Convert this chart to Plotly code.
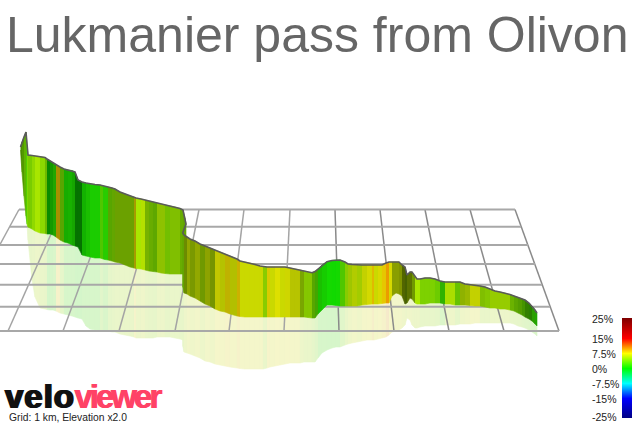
import numpy as np
import plotly.graph_objects as go

TITLE = "Lukmanier pass from Olivon"
GRID_NOTE = "Grid: 1 km, Elevation x2.0"

# profile, station by station
station_x = [20.5,22,24,26,27,28,32,35,40,45,47,50,53,56,60,64,68,72,75,78,82,86,90,95,100,103,105,108,112,115,120,125,130,134,136,141,145,149,153,157,161,165,170,175,180,183,185,186,182.7,184,187,190,195,200,205,210,215,220,225,230,237,240,245,250,255,260,263,267,270,275,280,285,290,295,300,304,308,312,315,318,322,327,332,336,340,345,348,352,357,362,367,372,374,378,382,386,389,392,396,399,402,405,407,410,412,415,417,420,425,430,435,440,445,450,455,460,465,470,475,480,485,490,495,500,505,510,514,518,522,525,529,532,535,537]
ridge = [147,142,137,132,145,155,155.5,156,156.5,157.5,159,161,163,165,167,169,170,170.5,172,180,182,183,184,184.5,185,186,186.5,187,188,189,192,194,196,197,198,199,200,201,202,203,204,205,206,207,208.5,210,218,224,233,235,237,239,241,244,246,248,250,252,254,256,259,261,262,263,264.5,266,266.7,267,267,267,267,267,268,269,270,271,272,272.7,271.5,269,265,261.7,260.5,260,260,262,264,264.5,265,265,265,265,265,265,265,263,262,262,262,262,265,267,275,272,272,277,279,279,278,278,279,281,282,282,282,282,284,284.5,285,286,287,289,291,292,293,294.5,296,297.5,299,300,303,306,310,313]
floor = [150,172,196,216,224,227,229,231,233,233.5,234,234,235,237,240,242,243,245,246,247,255,256,257,258,258,259,259.5,260,261,262,263,265,267,268,268.5,269,270,271,271.5,272,273,273.5,274,274,274,274,275,275,287,293,294,296,298,301,304,306,309,311,312,314,316,316.5,317,317,317,317,317,317,317,317,317,317,317,317,317,317,317.5,318,318,314,310,305,305,305.5,306,306,306,306,306,305,304.5,304,304,304,303.5,303,303,296,293,294,296,304,303,298,299,303,304,304,304,303,303,303,304,304,305,305,305,305.5,306,306,307,308,308,309,309,310,311,313,315,317,319,321,324,326]
mirror = [150,172,196,216,224,240,280,297,308,309,309.5,310,310,311,313,314,315,316,317,318,319,326,329,330,331,331,331,331,332,332,334,335,336,337,338,338,338,338,338,337,337,337,337,338,339,340,342,344,346,352,353,354,356,358,361,362,364,365,366,367,368,368.5,369,369,369,369,369,368,367,366,365,364,363,363,363,362,362,362,362,358,353,350,348,347,347,345,344,343,342,341,340,340,340,339,338,337,335,332,331,330,328,325,318,320,325,328,328,327,326,326,326,325,325,325,325,324,324,324,323,323,323,323,323,323,323,323,324,326,327,328,330,332,334,336]
gradient = [4,4,4,3,4.5,4.5,5,5.5,4.8,4.5,0.5,1,1.5,8.5,4,1,1,1,0.3,0.3,0.8,1,1,1,3,1.5,1.5,4,4.5,5,5,5,5,8,5.5,6,5,4.5,4.2,5.5,5.5,4.5,5,5,4.5,4.5,4.5,4.5,4.5,5.8,6.5,6,6.5,5.5,6.5,6,7.3,7,8,7,8.5,7,7,7,7,7,5,8,7,7.4,7,7.2,7,7,5.5,5,5,4,3,1,0.8,0.7,0.6,0.7,3,5,6,6.5,6,7,7.3,8.8,7,7.5,8.5,10,7.4,6.5,6.5,6.5,6,5.5,6,6,5.5,5.5,5.5,4.5,4.5,4.5,4,2,5.7,5.7,4,6,6.3,7,7,5,5,5.5,5.5,5.5,5.5,4.5,4.2,4,3.5,3,2.5,2,1.5,1.5]
light = [.55,.6,.7,.8,.85,.8,.85,.9,.85,.72,.55,.6,.65,.65,.65,.68,.7,.65,.45,.45,.7,.75,.8,.8,.78,.8,.8,.65,.65,.63,.63,.63,.63,.65,.9,.88,.7,.68,.66,.76,.76,.75,.75,.75,.68,.65,.65,.65,.65,.55,.66,.6,.66,.6,.64,.58,.78,.76,.75,.75,.8,.85,.85,.85,.85,.85,.8,.85,.85,.88,.85,.84,.77,.77,.65,.78,.78,.65,.65,.75,.8,.85,.85,.85,.78,.8,.78,.8,.8,.82,.85,.88,.85,.85,.9,.92,.85,.62,.62,.58,.4,.38,.45,.45,.6,.9,.9,.82,.82,.82,.8,.7,.87,.87,.76,.7,.72,.82,.82,.75,.78,.8,.8,.8,.8,.7,.65,.62,.58,.5,.5,.62,.65,.65]
assert len(station_x) == len(ridge) == len(floor) == len(mirror) == len(gradient) == len(light)

# perspective grid
grid_back_x = [19,62,108,153,199,244,290,335,380,425,470,515]
grid_front_x = [-47,8,63,119,175,229,284,339,394,449,504,559]
grid_levels = [209.5,226.7,245,264,284.7,306.7,331]
grid_left = [19,9.7,-0.3,-10.6,-21.8,-33.8,-47]
grid_right = [515,521,528,535,542,550,559]

legend_values = [25,15,7.5,0,-7.5,-15,-25]
legend_labels = ["25%","15%","7.5%","0%","-7.5%","-15%","-25%"]

scale_v = [-25,-15,-7.5,0,7.5,15,25]
scale_r = [0,0,0,0,255,255,128]
scale_g = [0,0,255,255,255,0,0]
scale_b = [128,255,255,0,0,0,0]

def rgb(g):
    return np.array([np.interp(g,scale_v,scale_r),np.interp(g,scale_v,scale_g),np.interp(g,scale_v,scale_b)])
def css(c):
    return "rgb(%d,%d,%d)" % tuple(int(round(v)) for v in c)

fig = go.Figure()
n = len(station_x)
# reflection on the ground plane
for i in range(n-1):
    c = rgb(gradient[i])*0.14 + np.array([245,245,235])*0.86
    fig.add_trace(go.Scatter(x=[station_x[i],station_x[i+1],station_x[i+1],station_x[i]],
        y=[floor[i],floor[i+1],mirror[i+1],mirror[i]],mode="lines",fill="toself",
        fillcolor=css(c),line=dict(color=css(c),width=0.6),hoverinfo="skip",showlegend=False))
# grid
for k,(bx,fx) in enumerate(zip(grid_back_x,grid_front_x)):
    fig.add_trace(go.Scatter(x=[bx,fx],y=[grid_levels[0],grid_levels[-1]],mode="lines",
        line=dict(color="#a4a4a4" if bx<335 else "#8a8a8a",width=1.5),hoverinfo="skip",showlegend=False))
for lv,l,r in zip(grid_levels,grid_left,grid_right):
    fig.add_trace(go.Scatter(x=[l,r],y=[lv,lv],mode="lines",
        line=dict(color="#a8a8a8",width=2),hoverinfo="skip",showlegend=False))
# wall
for i in range(n-1):
    c = css(rgb(gradient[i])*light[i])
    fig.add_trace(go.Scatter(x=[station_x[i],station_x[i+1],station_x[i+1],station_x[i]],
        y=[ridge[i],ridge[i+1],floor[i+1],floor[i]],mode="lines",fill="toself",
        fillcolor=c,line=dict(color=c,width=0.6),hoverinfo="skip",showlegend=False))
fig.add_trace(go.Scatter(x=station_x,y=ridge,mode="lines",line=dict(color="#5a5a5a",width=1.6),
    hoverinfo="skip",showlegend=False))
# colour key
vals = np.linspace(-25,25,101)
fig.add_trace(go.Heatmap(x=[0,1],y=vals,z=[[v,v] for v in vals],xaxis="x2",yaxis="y2",
    zmin=-25,zmax=25,showscale=False,hoverinfo="skip",
    colorscale=[[(v+25)/50,css(rgb(v))] for v in scale_v]))

ann = [dict(x=4,y=35,xref="x",yref="y",text=TITLE,showarrow=False,xanchor="left",yanchor="middle",
            font=dict(family="Liberation Sans",size=50,color="#666666")),
       dict(x=3,y=396,xref="x",yref="y",text='<span style="letter-spacing:1px">velo</span>',showarrow=False,xanchor="left",yanchor="middle",
            font=dict(family="Liberation Sans",size=33,weight=700,color="#111111",shadow="1px 0 0 #111111, -1px 0 0 #111111")),
       dict(x=72,y=396,xref="x",yref="y",text='<span style="letter-spacing:-3px">viewer</span>',showarrow=False,xanchor="left",yanchor="middle",
            font=dict(family="Liberation Sans",size=33,weight=700,color="#ff4266",shadow="1px 0 0 #ff4266")),
       dict(x=8,y=417,xref="x",yref="y",text=GRID_NOTE,showarrow=False,xanchor="left",yanchor="middle",borderpad=0,
            font=dict(family="Liberation Sans",size=10.3,color="#222222"))]
for v,t in zip(legend_values,legend_labels):
    ann.append(dict(x=591,y=v,xref="x",yref="y2",yshift=1.5 if v==-25 else -1,text=t,showarrow=False,xanchor="left",yanchor="middle",borderpad=0,
                    font=dict(family="Liberation Sans",size=10.5,color="#222222")))

fig.update_layout(width=632,height=423,autosize=False,margin=dict(l=0,r=0,t=0,b=0),
    paper_bgcolor="white",plot_bgcolor="rgba(0,0,0,0)",showlegend=False,annotations=ann,
    xaxis=dict(range=[0,632],visible=False,domain=[0,1],fixedrange=True),
    yaxis=dict(range=[423,0],visible=False,domain=[0,1],fixedrange=True),
    xaxis2=dict(range=[0,1],visible=False,domain=[622/632,1],anchor="y2",fixedrange=True),
    yaxis2=dict(range=[-25,25],visible=False,domain=[5/423,105/423],anchor="x2",fixedrange=True))
fig.write_html("out.html",config=dict(displayModeBar=False),
    post_script="document.body.style.margin='0';document.documentElement.style.overflow='hidden';")
